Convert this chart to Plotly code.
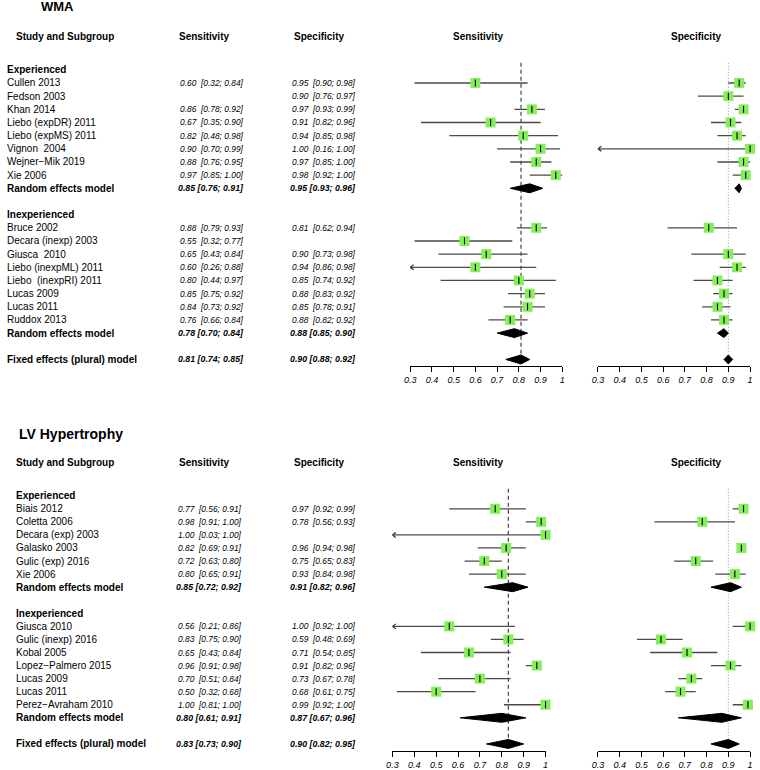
import plotly.graph_objects as go

W, H = 760, 770
FONT = "Liberation Sans, Arial, Helvetica, sans-serif"

# ---------------- WMA data ----------------
WMA_EXP_STUDIES = ["Cullen 2013", "Fedson 2003", "Khan 2014", "Liebo (expDR) 2011",
                   "Liebo (expMS) 2011", "Vignon  2004", "Wejner\u2212Mik 2019", "Xie 2006"]
WMA_EXP_SENS = [(0.60, 0.32, 0.84), None, (0.86, 0.78, 0.92), (0.67, 0.35, 0.90),
                (0.82, 0.48, 0.98), (0.90, 0.70, 0.99), (0.88, 0.76, 0.95), (0.97, 0.85, 1.00)]
WMA_EXP_SPEC = [(0.95, 0.90, 0.98), (0.90, 0.76, 0.97), (0.97, 0.93, 0.99), (0.91, 0.82, 0.96),
                (0.94, 0.85, 0.98), (1.00, 0.16, 1.00), (0.97, 0.85, 1.00), (0.98, 0.92, 1.00)]
WMA_EXP_RE_SENS = (0.85, 0.76, 0.91)
WMA_EXP_RE_SPEC = (0.95, 0.93, 0.96)

WMA_INEXP_STUDIES = ["Bruce 2002", "Decara (inexp) 2003", "Giusca  2010", "Liebo (inexpML) 2011",
                     "Liebo  (inexpRI) 2011", "Lucas 2009", "Lucas 2011", "Ruddox 2013"]
WMA_INEXP_SENS = [(0.88, 0.79, 0.93), (0.55, 0.32, 0.77), (0.65, 0.43, 0.84), (0.60, 0.26, 0.88),
                  (0.80, 0.44, 0.97), (0.85, 0.75, 0.92), (0.84, 0.73, 0.92), (0.76, 0.66, 0.84)]
WMA_INEXP_SPEC = [(0.81, 0.62, 0.94), None, (0.90, 0.73, 0.98), (0.94, 0.86, 0.98),
                  (0.85, 0.74, 0.92), (0.88, 0.83, 0.92), (0.85, 0.78, 0.91), (0.88, 0.82, 0.92)]
WMA_INEXP_RE_SENS = (0.78, 0.70, 0.84)
WMA_INEXP_RE_SPEC = (0.88, 0.85, 0.90)

WMA_FE_SENS = (0.81, 0.74, 0.85)
WMA_FE_SPEC = (0.90, 0.88, 0.92)

# ---------------- LV Hypertrophy data ----------------
LVH_EXP_STUDIES = ["Biais 2012", "Coletta 2006", "Decara (exp) 2003", "Galasko 2003",
                   "Gulic (exp) 2016", "Xie 2006"]
LVH_EXP_SENS = [(0.77, 0.56, 0.91), (0.98, 0.91, 1.00), (1.00, 0.03, 1.00), (0.82, 0.69, 0.91),
                (0.72, 0.63, 0.80), (0.80, 0.65, 0.91)]
LVH_EXP_SPEC = [(0.97, 0.92, 0.99), (0.78, 0.56, 0.93), None, (0.96, 0.94, 0.98),
                (0.75, 0.65, 0.83), (0.93, 0.84, 0.98)]
LVH_EXP_RE_SENS = (0.85, 0.72, 0.92)
LVH_EXP_RE_SPEC = (0.91, 0.82, 0.96)

LVH_INEXP_STUDIES = ["Giusca 2010", "Gulic (inexp) 2016", "Kobal 2005", "Lopez\u2212Palmero 2015",
                     "Lucas 2009", "Lucas 2011", "Perez\u2212Avraham 2010"]
LVH_INEXP_SENS = [(0.56, 0.21, 0.86), (0.83, 0.75, 0.90), (0.65, 0.43, 0.84), (0.96, 0.91, 0.98),
                  (0.70, 0.51, 0.84), (0.50, 0.32, 0.68), (1.00, 0.81, 1.00)]
LVH_INEXP_SPEC = [(1.00, 0.92, 1.00), (0.59, 0.48, 0.69), (0.71, 0.54, 0.85), (0.91, 0.82, 0.96),
                  (0.73, 0.67, 0.78), (0.68, 0.61, 0.75), (0.99, 0.92, 1.00)]
LVH_INEXP_RE_SENS = (0.80, 0.61, 0.91)
LVH_INEXP_RE_SPEC = (0.87, 0.67, 0.96)

LVH_FE_SENS = (0.83, 0.73, 0.90)
LVH_FE_SPEC = (0.90, 0.82, 0.95)

TICK_VALS = [0.3, 0.4, 0.5, 0.6, 0.7, 0.8, 0.9, 1.0]
TICK_TEXT = ["0.3", "0.4", "0.5", "0.6", "0.7", "0.8", "0.9", "1"]
GROUP_NAMES = ["Experienced", "Inexperienced"]
MEASURES = ["Sensitivity", "Specificity"]


def build_rows(groups, fe_sens, fe_spec):
    rows = []
    for gname, studies, sens, spec, re_s, re_p in groups:
        rows.append(("head", gname, None, None))
        for n, s, p in zip(studies, sens, spec):
            rows.append(("study", n, s, p))
        rows.append(("model", "Random effects model", re_s, re_p))
        rows.append(("blank", "", None, None))
    rows.append(("model", "Fixed effects (plural) model", fe_sens, fe_spec))
    return rows


PANELS = [
    dict(title="WMA", title_size=13, title_x=35, title_y=7,
         header_y=37, row0=70, step=13.2, label_x=1,
         sens_right=241, spec_right=354,
         axes=[(1, 409, 563, 478), (2, 599, 753, 698)], ax_y=367, ax_top=55,
         rows=build_rows([
             (GROUP_NAMES[0], WMA_EXP_STUDIES, WMA_EXP_SENS, WMA_EXP_SPEC, WMA_EXP_RE_SENS, WMA_EXP_RE_SPEC),
             (GROUP_NAMES[1], WMA_INEXP_STUDIES, WMA_INEXP_SENS, WMA_INEXP_SPEC, WMA_INEXP_RE_SENS, WMA_INEXP_RE_SPEC),
         ], WMA_FE_SENS, WMA_FE_SPEC)),
    dict(title="LV Hypertrophy", title_size=14, title_x=13, title_y=435,
         header_y=464, row0=497, step=13.1, label_x=10,
         sens_right=239, spec_right=354,
         axes=[(3, 391, 546, 478), (4, 599, 753, 698)], ax_y=753, ax_top=482,
         rows=build_rows([
             (GROUP_NAMES[0], LVH_EXP_STUDIES, LVH_EXP_SENS, LVH_EXP_SPEC, LVH_EXP_RE_SENS, LVH_EXP_RE_SPEC),
             (GROUP_NAMES[1], LVH_INEXP_STUDIES, LVH_INEXP_SENS, LVH_INEXP_SPEC, LVH_INEXP_RE_SENS, LVH_INEXP_RE_SPEC),
         ], LVH_FE_SENS, LVH_FE_SPEC)),
]


def px(x):
    return x / W


def py(y):
    return 1 - y / H


fig = go.Figure()
ann = []


def text(x, y, s, size=10, anchor="left", color="black"):
    ann.append(dict(x=px(x), y=py(y), xref="paper", yref="paper", text=s, showarrow=False,
                    xanchor=anchor, yanchor="middle", font=dict(family=FONT, size=size, color=color),
                    borderpad=0, borderwidth=0))


def fmt(v, bold):
    if bold:
        return f"<b><i>{v[0]:.2f} [{v[1]:.2f}; {v[2]:.2f}]</i></b>"
    return f"<i>{v[0]:.2f}\u00a0\u00a0[{v[1]:.2f}; {v[2]:.2f}]</i>"


layout_axes = {}
for P in PANELS:
    text(P["title_x"], P["title_y"], "<b>" + P["title"] + "</b>", size=P["title_size"])
    text(10, P["header_y"], "<b>Study and Subgroup</b>", size=10)
    text(200, P["header_y"], "<b>" + MEASURES[0] + "</b>", size=10, anchor="center")
    text(317, P["header_y"], "<b>" + MEASURES[1] + "</b>", size=10, anchor="center")
    rows = P["rows"]
    ys = [P["row0"] + i * P["step"] for i in range(len(rows))]
    for (kind, lab, s, p), y in zip(rows, ys):
        if kind == "head":
            text(P["label_x"], y, "<b>" + lab + "</b>", size=10)
        elif kind in ("study", "model"):
            bold = kind == "model"
            text(P["label_x"], y, ("<b>" + lab + "</b>") if bold else lab, size=10)
            vs = 8.8 if bold else 8.4
            if s is not None:
                text(P["sens_right"], y, fmt(s, bold), size=vs, anchor="right")
            if p is not None:
                text(P["spec_right"], y, fmt(p, bold), size=vs, anchor="right")

    for mi, (axn, x0, x1, hx) in enumerate(P["axes"]):
        text(hx, P["header_y"], "<b>" + MEASURES[mi] + "</b>", size=10, anchor="center")
        xa = "x" if axn == 1 else f"x{axn}"
        ya = "y" if axn == 1 else f"y{axn}"
        unit_px = (x1 - x0) / 0.7
        sel = [(r[2] if mi == 0 else r[3], r[0], y) for r, y in zip(rows, ys)]
        fe = sel[-1][0]

        # reference line at fixed-effect estimate
        fig.add_trace(go.Scatter(x=[fe[0], fe[0]], y=[ys[0] - 7, ys[-1] - 4], xaxis=xa, yaxis=ya,
                                 mode="lines", hoverinfo="skip", showlegend=False,
                                 line=dict(color="#444" if mi == 0 else "#999", width=1.2 if mi == 0 else 1,
                                           dash="4px,3px" if mi == 0 else "1px,2px")))
        cx, cy, axx, axy, sqx, sqy = [], [], [], [], [], []
        for v, kind, y in sel:
            if v is None:
                continue
            if kind == "study":
                lo = max(v[1], 0.3)
                cx += [lo, v[2], None]
                cy += [y, y, None]
                if v[1] < 0.3:
                    d = 3.5 / unit_px
                    axx += [0.3 + d, 0.3, 0.3 + d, None]
                    axy += [y - 2.5, y, y + 2.5, None]
                sqx.append(v[0])
                sqy.append(y)
            elif kind == "model":
                h = 4.5
                fig.add_trace(go.Scatter(x=[v[1], v[0], v[2], v[0], v[1]], y=[y, y - h, y, y + h, y],
                                         xaxis=xa, yaxis=ya, mode="lines", fill="toself",
                                         fillcolor="black", line=dict(color="black", width=1),
                                         hoverinfo="skip", showlegend=False))
        fig.add_trace(go.Scatter(x=cx, y=cy, xaxis=xa, yaxis=ya, mode="lines", hoverinfo="skip",
                                 showlegend=False, line=dict(color="#4a4a4a", width=1.3)))
        fig.add_trace(go.Scatter(x=axx, y=axy, xaxis=xa, yaxis=ya, mode="lines", hoverinfo="skip",
                                 showlegend=False, line=dict(color="#333", width=1.2)))
        fig.add_trace(go.Scatter(x=sqx, y=sqy, xaxis=xa, yaxis=ya, mode="markers", hoverinfo="skip",
                                 showlegend=False, cliponaxis=False,
                                 marker=dict(symbol="square", size=10, color="#85ef5a",
                                             line=dict(width=0))))
        fig.add_trace(go.Scatter(x=sqx, y=sqy, xaxis=xa, yaxis=ya, mode="markers", hoverinfo="skip",
                                 showlegend=False, cliponaxis=False,
                                 marker=dict(symbol="line-ns", size=5, color="black",
                                             line=dict(width=1.1, color="black"))))

        xkey = "xaxis" if axn == 1 else f"xaxis{axn}"
        ykey = "yaxis" if axn == 1 else f"yaxis{axn}"
        layout_axes[xkey] = dict(domain=[px(x0), px(x1)], range=[0.3, 1.0], anchor=ya,
                                 tickvals=TICK_VALS, ticktext=TICK_TEXT, showline=True,
                                 linecolor="black", linewidth=1, ticks="outside", ticklen=5,
                                 tickcolor="black", tickwidth=1, showgrid=False, zeroline=False,
                                 tickfont=dict(family=FONT, size=9, color="black", style="italic"),
                                 fixedrange=True)
        layout_axes[ykey] = dict(domain=[py(P["ax_y"]), py(P["ax_top"])], range=[P["ax_y"], P["ax_top"]],
                                 anchor=xa, visible=False, showgrid=False, zeroline=False, fixedrange=True)

fig.update_layout(width=W, height=H, margin=dict(l=0, r=0, t=0, b=0), paper_bgcolor="white",
                  plot_bgcolor="white", annotations=ann, showlegend=False, **layout_axes)
fig.write_html("out.html", config={"displayModeBar": False},
               post_script="document.body.style.margin='0';document.body.style.overflow='hidden';")
